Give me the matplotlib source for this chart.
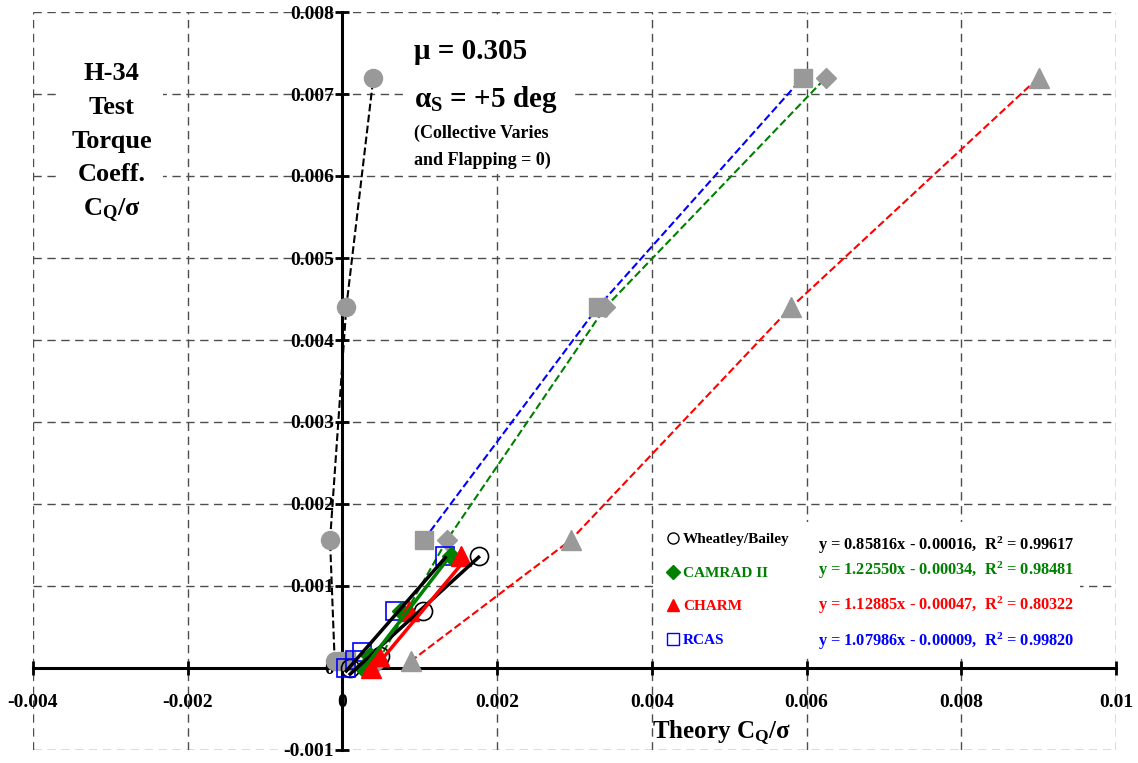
import numpy as np
import matplotlib
matplotlib.use("Agg")
import matplotlib.pyplot as plt
from matplotlib.lines import Line2D
from matplotlib.patches import Rectangle

plt.rcParams['font.family'] = ['Liberation Serif', 'DejaVu Serif']
plt.rcParams['font.weight'] = 'bold'
plt.rcParams['mathtext.fontset'] = 'custom'
plt.rcParams['mathtext.rm'] = 'Liberation Serif:bold'
plt.rcParams['mathtext.it'] = 'Liberation Serif:bold'
plt.rcParams['mathtext.bf'] = 'Liberation Serif:bold'

# low collective sweep: test CQ/sigma (y) against theory CQ/sigma (x)
test_lo = [0.0, 0.00015, 0.0007, 0.00136]
wb_lo = [0.0001, 0.00048, 0.00104, 0.00176]
camrad_lo = [0.00026, 0.00036, 0.00076, 0.0014]
charm_lo = [0.00037, 0.00047, 0.00086, 0.00153]
rcas_test = [0.0, 0.0001, 0.0002, 0.0007, 0.00136]
rcas_lo = [0.00005, 0.00016, 0.00025, 0.00068, 0.00133]

# high collective sweep (grey symbols)
test_hi = [0.00008, 0.00156, 0.0044, 0.0072]
wb_hi = [-0.0001, -0.00016, 0.00005, 0.0004]
camrad_hi = [0.00046, 0.00135, 0.0034, 0.00625]
charm_hi = [0.00088, 0.00295, 0.0058, 0.009]
rcas_hi = [0.00005, 0.00105, 0.0033, 0.00595]

# linear trend lines
names = ['Wheatley/Bailey', 'CAMRAD II', 'CHARM', 'RCAS']
fit_slope = [0.85816, 1.22550, 1.12885, 1.07986]
fit_icpt = [-0.00016, -0.00034, -0.00047, -0.00009]
fit_r2 = [0.99617, 0.98481, 0.80322, 0.99820]

xtick_labels = ['-0.004', '-0.002', '0', '0.002', '0.004', '0.006', '0.008', '0.01']
ytick_labels = ['-0.001', '0', '0.001', '0.002', '0.003', '0.004', '0.005',
                '0.006', '0.007', '0.008']

green = '#008000'
grey = '#999999'

fig = plt.figure(figsize=(11.38, 7.63), dpi=100)
ax = fig.add_axes([33 / 1138, 13 / 763, 1083 / 1138, 738 / 763])
ax.set_xlim(-0.004, 0.01)
ax.set_ylim(-0.001, 0.008)

# grey points with dashed connecting lines
ax.plot(wb_hi, test_hi, '--', color='black', lw=1.5, zorder=3)
ax.plot(camrad_hi, test_hi, '--', color=green, lw=1.5, zorder=3)
ax.plot(charm_hi, test_hi, '--', color='red', lw=1.5, zorder=3)
ax.plot(rcas_hi[1:], test_hi[1:], '--', color='blue', lw=1.5, zorder=3)
ax.plot(wb_hi, test_hi, 'o', color=grey, ms=13, mec=grey, ls='none', zorder=4)
ax.plot(rcas_hi, test_hi, 's', color=grey, ms=12.5, mec=grey, ls='none', zorder=4)
ax.plot(camrad_hi, test_hi, 'D', color=grey, ms=10.5, mec=grey, ls='none', zorder=4)
ax.plot(charm_hi, test_hi, '^', color=grey, ms=15, mec=grey, ls='none', zorder=4)

# coloured points
ax.plot(wb_lo, test_lo, 'o', mfc='none', mec='black', mew=1.2, ms=13, ls='none', zorder=5)
ax.plot(rcas_lo, rcas_test, 's', mfc='none', mec='blue', mew=1.2, ms=13, ls='none', zorder=5)
ax.plot(camrad_lo, test_lo, 'D', color=green, ms=9, ls='none', zorder=5)
ax.plot(charm_lo, test_lo, '^', color='red', ms=14, ls='none', zorder=5)

# trend lines
fit_x = [wb_lo, camrad_lo, charm_lo, rcas_lo]
fit_col = ['black', green, 'red', 'black']
for xs, m, b, c in zip(fit_x, fit_slope, fit_icpt, fit_col):
    xx = np.array([min(xs), max(xs)])
    ax.plot(xx, m * xx + b, '-', color=c, lw=2.5, zorder=6)

# axes through the origin
for s in ['top', 'right']:
    ax.spines[s].set_visible(False)
ax.spines['left'].set_position(('data', 0))
ax.spines['bottom'].set_position(('data', 0))
ax.spines['left'].set_linewidth(2.2)
ax.spines['bottom'].set_linewidth(2.2)
ax.spines['left'].set_zorder(2.5)
ax.spines['bottom'].set_zorder(2.5)

ax.set_xticks(np.linspace(-0.004, 0.01, 8))
ax.set_xticklabels(xtick_labels, fontsize=14, fontweight='bold')
ax.set_yticks(np.linspace(-0.001, 0.008, 10))
ax.set_yticklabels(ytick_labels, fontsize=14, fontweight='bold')
ax.tick_params(axis='both', direction='inout', length=10, width=2)
ax.tick_params(axis='x', pad=14)
ax.tick_params(axis='y', pad=1)
ax.grid(True, color='0.3', linestyle=(0, (6, 4)), lw=1, zorder=0)
ax.set_axisbelow(True)

# white boxes behind legend/equations and the condition text
ax.add_patch(Rectangle((0.00404, 0.00016), 0.0055, 0.00162, facecolor='white',
                       edgecolor='none', zorder=2))
ax.add_patch(Rectangle((0.00081, 0.00603), 0.00216, 0.00187, facecolor='white',
                       edgecolor='none', zorder=2))

handles = [
    Line2D([], [], marker='o', ls='none', mfc='none', mec='black', ms=8),
    Line2D([], [], marker='D', ls='none', color=green, ms=7),
    Line2D([], [], marker='^', ls='none', color='red', ms=9),
    Line2D([], [], marker='s', ls='none', mfc='none', mec='blue', ms=8),
]
leg = ax.legend(handles, names, loc='upper left', bbox_to_anchor=(660 / 1138, 1 - 525 / 763),
                bbox_transform=fig.transFigure, frameon=False, fontsize=11,
                labelspacing=1.3, handlelength=0.7, handletextpad=0.3, borderpad=0,
                labelcolor=['black', green, 'red', 'blue'])
leg.set_zorder(7)

eq_y = [0.0015, 0.00119, 0.00076, 0.00033]
eq_col = ['black', green, 'red', 'blue']
for m, b, r, yy, c in zip(fit_slope, fit_icpt, fit_r2, eq_y, eq_col):
    ax.text(0.00615, yy, 'y = %.5fx - %.5f,  R$^{2}$ = %.5f' % (m, -b, r),
            color=c, fontsize=11.8, fontweight='bold', va='center', zorder=7)

# annotations
ax.text(-0.00298, 0.0064, 'H-34\nTest\nTorque\nCoeff.\nC$_{\\mathrm{Q}}$/σ', ha='center',
        va='center', fontsize=19, fontweight='bold', linespacing=1.6, zorder=7,
        bbox=dict(facecolor='white', edgecolor='none', pad=8))
ax.text(0.00093, 0.00752, 'μ = 0.305', fontsize=21, fontweight='bold', va='center', zorder=7)
ax.text(0.00093, 0.00693, 'α$_{\\mathrm{S}}$ = +5 deg', fontsize=21, fontweight='bold',
        va='center', zorder=7)
ax.text(0.00093, 0.00652, '(Collective Varies', fontsize=13, fontweight='bold', va='center',
        zorder=7)
ax.text(0.00093, 0.00619, 'and Flapping = 0)', fontsize=13, fontweight='bold', va='center',
        zorder=7)
ax.text(0.0049, -0.00078, 'Theory C$_{\\mathrm{Q}}$/σ', fontsize=18, fontweight='bold',
        ha='center', va='center')

fig.savefig('out.png', dpi=100)
